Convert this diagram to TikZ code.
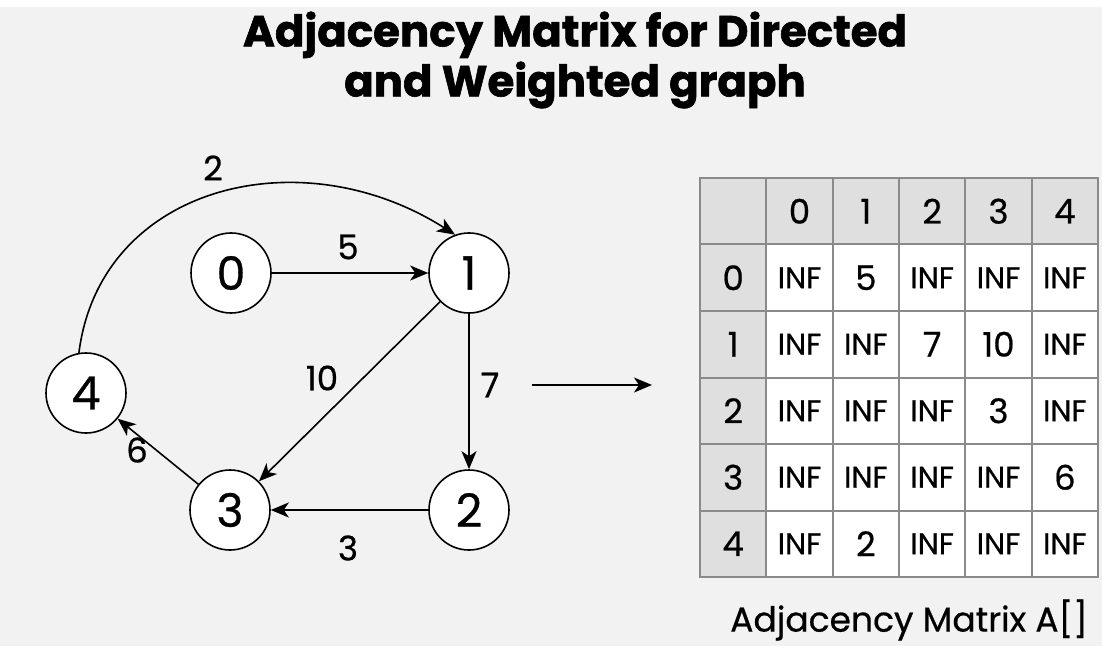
\documentclass[tikz,border=0pt]{standalone}
\usepackage{fontspec}
\setmainfont{Poppins}[UprightFeatures={FakeBold=0.6}, BoldFeatures={FakeBold=1.4}]
\usetikzlibrary{arrows.meta}

\definecolor{bggray}{HTML}{F2F2F2}
\definecolor{headgray}{HTML}{DFDFDF}
\definecolor{rulegray}{HTML}{8A8A8A}

\newcommand{\infcell}{{\fontsize{30}{30}\selectfont INF}}

\begin{document}
\begin{tikzpicture}[
    x=1pt, y=1pt,
    >={Stealth[length=18pt,width=15pt,inset=5pt]},
    vertex/.style={
        circle,
        draw=black,
        fill=white,
        line width=1.6pt,
        minimum size=80pt,
        inner sep=0pt,
        font=\fontsize{46}{46}\selectfont
    },
    edge/.style={->, line width=1.6pt},
    weight/.style={font=\fontsize{34}{34}\selectfont},
    cell/.style={
        rectangle,
        draw=rulegray,
        line width=2pt,
        fill=#1,
        minimum width=66.33pt,
        minimum height=66.5pt,
        inner sep=0pt,
        outer sep=0pt,
        font=\fontsize{34}{34}\selectfont
    },
    cell/.default=white
]

% canvas
\useasboundingbox (0,0) rectangle (1102,646);
\fill[white] (0,639) rectangle (1102,646);
\fill[bggray] (0,0) rectangle (1102,639);

% title
\node[font=\fontsize{43.5}{50}\selectfont\bfseries, align=center] (title) at (575,586)
  {Adjacency Matrix for Directed\\and Weighted graph};

% graph vertices
\node[vertex] (n0) at (231,373) {0};
\node[vertex] (n1) at (469,373) {1};
\node[vertex] (n2) at (469,136) {2};
\node[vertex] (n3) at (230,136) {3};
\node[vertex] (n4) at (86,253) {4};

% weighted edges
\draw[edge] (n0) -- (n1);
\draw[edge] (n1) -- (n2);
\draw[edge] (n2) -- (n3);
\draw[edge] (n1) -- (n3);
\draw[edge] (n3) -- (n4);
\draw[edge] (n4.100) .. controls (100,460) and (300,510) .. (n1.110);

\node[weight] (w41) at (213,478) {2};
\node[weight] (w01) at (348,399) {5};
\node[weight] (w13) at (322,268) {10};
\node[weight] (w12) at (490,261) {7};
\node[weight] (w34) at (137,196) {6};
\node[weight] (w23) at (348,98) {3};

% graph -> matrix
\coordinate (gap-a) at (532,261);
\coordinate (gap-b) at (652,261);
\draw[edge] (gap-a) -- (gap-b);

% adjacency matrix
\node[cell=headgray] (corner) at (733.17,434.75) {};
\foreach \c in {0,...,4}
  \node[cell=headgray] (h-\c) at ({733.17+66.33*(\c+1)},434.75) {\c};
\foreach \r in {0,...,4}
  \node[cell=headgray] (r-\r) at (733.17,{434.75-66.5*(\r+1)}) {\r};
\foreach \row [count=\r from 0] in {
    {\infcell,5,\infcell,\infcell,\infcell},
    {\infcell,\infcell,7,10,\infcell},
    {\infcell,\infcell,\infcell,3,\infcell},
    {\infcell,\infcell,\infcell,\infcell,6},
    {\infcell,2,\infcell,\infcell,\infcell}}
  \foreach \v [count=\c from 0] in \row
    \node[cell] (m-\r-\c) at ({733.17+66.33*(\c+1)},{434.75-66.5*(\r+1)}) {\v};

\node[font=\fontsize{34.5}{34.5}\selectfont] (caption) at (909,26) {Adjacency Matrix A[]};

\end{tikzpicture}
\end{document}
